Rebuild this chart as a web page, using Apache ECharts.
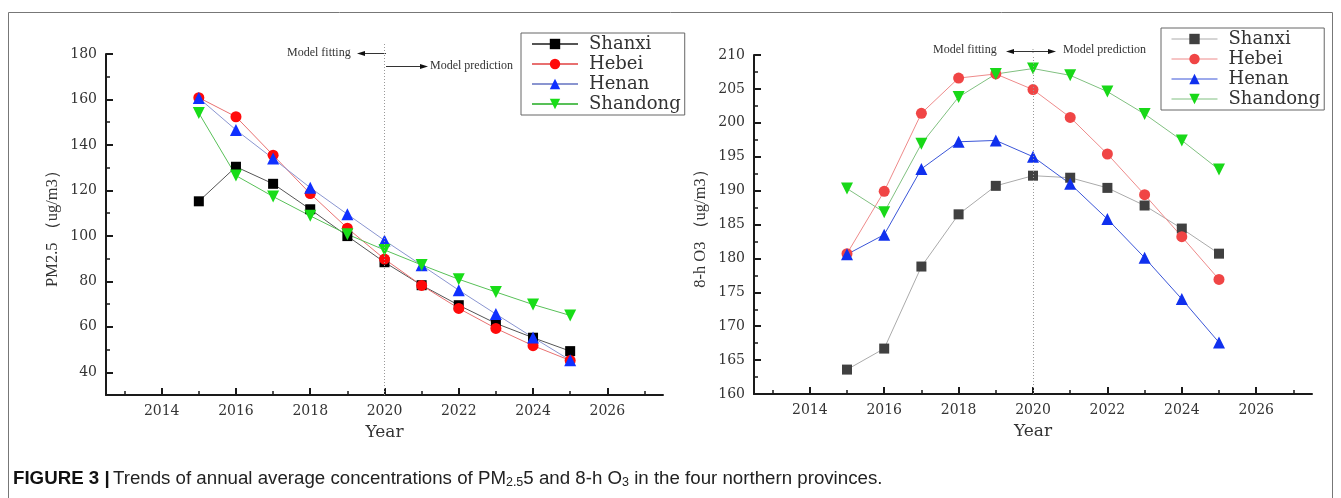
<!DOCTYPE html>
<html>
<head>
<meta charset="utf-8">
<script src="https://cdn.jsdelivr.net/npm/echarts@6/dist/echarts.min.js"></script>
<style>html,body{margin:0;padding:0;background:#fff;}#c{width:1341px;height:498px;}</style>
</head>
<body>
<div id="c"></div>
<script>
const years = [2015, 2016, 2017, 2018, 2019, 2020, 2021, 2022, 2023, 2024, 2025];
const provinces = ['Shanxi', 'Hebei', 'Henan', 'Shandong'];
// PM2.5 (left)
const pmShanxi   = [115.2, 130.4, 122.9, 111.7, 99.9, 88.4, 78.3, 69.5, 61.5, 55.2, 49.3];
const pmHebei    = [160.8, 152.4, 135.5, 118.6, 103.4, 89.8, 78.2, 68.1, 59.3, 51.7, 45.2];
const pmHenan    = [160.6, 146.6, 134.0, 121.2, 109.5, 98.0, 87.1, 76.1, 65.6, 55.3, 45.3];
const pmShandong = [154.0, 126.5, 117.3, 108.8, 100.7, 93.8, 87.2, 80.9, 75.3, 69.8, 65.0];
// 8-h O3 (right)
const o3Shanxi   = [163.6, 166.7, 178.8, 186.5, 190.7, 192.2, 191.9, 190.4, 187.8, 184.4, 180.7];
const o3Hebei    = [180.7, 189.9, 201.4, 206.6, 207.2, 204.9, 200.8, 195.4, 189.4, 183.2, 176.9];
const o3Henan    = [180.6, 183.5, 193.2, 197.2, 197.4, 195.0, 191.0, 185.8, 180.1, 174.0, 167.6];
const o3Shandong = [190.3, 186.8, 196.9, 203.8, 207.2, 208.0, 207.0, 204.6, 201.3, 197.4, 193.1];
// ticks
const majorYears = [2014, 2016, 2018, 2020, 2022, 2024, 2026];
const minorYears = [2013, 2015, 2017, 2019, 2021, 2023, 2025, 2027];
const pmMajor = [40, 60, 80, 100, 120, 140, 160, 180];
const pmMinor = [50, 70, 90, 110, 130, 150, 170];
const o3Major = [160, 165, 170, 175, 180, 185, 190, 195, 200, 205, 210];
const o3Minor = [162.5, 167.5, 172.5, 177.5, 182.5, 187.5, 192.5, 197.5, 202.5, 207.5];
const splitYear = 2020;

const pair = arr => years.map((y, i) => [y, arr[i]]);
const serif = 'DejaVu Serif';
const axisColor = '#1a1a1a';

function mainX(grid) {
  return {
    gridIndex: grid, type: 'value', min: 2012.5, max: 2027.5, position: 'bottom',
    axisLine: { onZero: false, lineStyle: { color: axisColor, width: 2 } },
    axisTick: { inside: true, length: 7, customValues: majorYears, lineStyle: { color: axisColor, width: 2 } },
    axisLabel: { customValues: majorYears, margin: 9, color: '#333', fontFamily: serif, fontSize: 14, formatter: v => String(v) },
    splitLine: { show: false },
    name: 'Year', nameLocation: 'middle', nameGap: 29,
    nameTextStyle: { fontFamily: serif, fontSize: 17, color: '#333' }
  };
}
function minorX(grid) {
  return {
    gridIndex: grid, type: 'value', min: 2012.5, max: 2027.5, position: 'bottom',
    axisLine: { show: false, onZero: false },
    axisTick: { inside: true, length: 4, customValues: minorYears, lineStyle: { color: axisColor, width: 1.5 } },
    axisLabel: { show: false }, splitLine: { show: false }
  };
}
function mainY(grid, min, max, major, name, gap) {
  return {
    gridIndex: grid, type: 'value', min: min, max: max, position: 'left',
    axisLine: { onZero: false, lineStyle: { color: axisColor, width: 2 } },
    axisTick: { inside: true, length: 7, customValues: major, lineStyle: { color: axisColor, width: 2 } },
    axisLabel: { customValues: major, margin: 9, color: '#333', fontFamily: serif, fontSize: 14, formatter: v => String(v) },
    splitLine: { show: false },
    name: name, nameLocation: 'middle', nameGap: gap,
    nameTextStyle: { fontFamily: 'Liberation Serif', fontSize: 16.5, color: '#333' }
  };
}
function minorY(grid, min, max, minor) {
  return {
    gridIndex: grid, type: 'value', min: min, max: max, position: 'left',
    axisLine: { show: false, onZero: false },
    axisTick: { inside: true, length: 4, customValues: minor, lineStyle: { color: axisColor, width: 1.5 } },
    axisLabel: { show: false }, splitLine: { show: false }
  };
}

const styleL = {
  Shanxi:   { sym: 'rect', size: 10, rot: 0, color: '#000000', line: '#555555' },
  Hebei:    { sym: 'circle', size: 11, rot: 0, color: '#ff0a0a', line: '#e87070' },
  Henan:    { sym: 'triangle', size: 12, rot: 0, color: '#1030ff', line: '#8a95d0' },
  Shandong: { sym: 'triangle', size: 12, rot: 180, color: '#18dd18', line: '#58c058' }
};
const styleR = {
  Shanxi:   { sym: 'rect', size: 10, rot: 0, color: '#404040', line: '#aaaaaa' },
  Hebei:    { sym: 'circle', size: 11, rot: 0, color: '#f04545', line: '#ee8a8a' },
  Henan:    { sym: 'triangle', size: 12, rot: 0, color: '#1030ee', line: '#3a55d8' },
  Shandong: { sym: 'triangle', size: 12, rot: 180, color: '#18d818', line: '#80c080' }
};

function mkSeries(name, arr, st, axisIdx, withMark) {
  const s = {
    name: name, type: 'line', xAxisIndex: axisIdx, yAxisIndex: axisIdx,
    data: pair(arr), symbol: st.sym, symbolSize: st.size, symbolRotate: st.rot,
    showAllSymbol: true,
    itemStyle: { color: st.color },
    lineStyle: { color: st.line, width: 1 },
    emphasis: { disabled: true }, animation: false
  };
  if (withMark) {
    s.markLine = {
      silent: true, symbol: ['none', 'none'], animation: false,
      label: { show: false },
      lineStyle: { color: '#999', type: [1, 2], width: 1 },
      data: [{ xAxis: splitYear }]
    };
  }
  return s;
}

const pmArr = [pmShanxi, pmHebei, pmHenan, pmShandong];
const o3Arr = [o3Shanxi, o3Hebei, o3Henan, o3Shandong];
const series = [];
provinces.forEach((p, i) => series.push(mkSeries(p, pmArr[i], styleL[p], 0, i === 0)));
provinces.forEach((p, i) => series.push(mkSeries(p, o3Arr[i], styleR[p], 2, i === 0)));

function legendCfg(left, top, styles, override) {
  return {
    orient: 'vertical', left: left, top: top, selectedMode: false,
    data: provinces.map(p => override ? { name: p, itemStyle: { color: styles[p].color }, lineStyle: { color: styles[p].line, width: 1 } } : { name: p }),
    borderColor: '#666', borderWidth: 1, padding: [2, 4, 2, 10],
    itemWidth: 46, itemHeight: 13, itemGap: 2,
    textStyle: { fontFamily: serif, fontSize: 18, color: '#333', padding: [0, 0, 0, 6] }
  };
}

const chart = echarts.init(document.getElementById('c'), null, { renderer: 'canvas', width: 1341, height: 498 });

function arrow(id, x1, x2, y) {
  const dir = x2 > x1 ? 1 : -1;
  return [
    { id: id + 'L', type: 'line', shape: { x1: x1, y1: y, x2: x2 - dir * 6, y2: y }, style: { stroke: '#333', lineWidth: 1 }, silent: true },
    { id: id + 'H', type: 'polygon', shape: { points: [[x2, y], [x2 - dir * 8, y - 2.5], [x2 - dir * 8, y + 2.5]] }, style: { fill: '#111' }, silent: true }
  ];
}
function vdots(id, x, y1, y2) {
  return { id: id, type: 'line', shape: { x1: x, y1: y1, x2: x, y2: y2 }, style: { stroke: '#999', lineWidth: 1, lineDash: [1, 2] }, silent: true };
}
const annoFont = '12px "Liberation Serif"';

chart.setOption({
  animation: false,
  grid: [
    { left: 106, right: 678, top: 54, bottom: 103 },
    { left: 754, right: 29, top: 55, bottom: 104 }
  ],
  xAxis: [mainX(0), minorX(0), mainX(1), minorX(1)],
  yAxis: [
    mainY(0, 30, 180, pmMajor, 'PM2.5 （ug/m3）', 45), minorY(0, 30, 180, pmMinor),
    mainY(1, 160, 210, o3Major, '8-h O3 （ug/m3）', 45), minorY(1, 160, 210, o3Minor)
  ],
  legend: [legendCfg(521, 33, styleL, false), legendCfg(1161, 28, styleR, true)],
  series: series,
  graphic: [
    { id: 'frame', type: 'rect', shape: { x: 8.5, y: 12.5, width: 1324, height: 520 }, style: { fill: 'none', stroke: '#777', lineWidth: 1 }, silent: true, z: -10 },
    { id: 'fitL', type: 'text', left: 287, top: 47, style: { text: 'Model fitting', font: annoFont, fill: '#333' }, silent: true },
    ...arrow('a1', 386, 357, 53.5),
    ...arrow('a2', 386, 428, 66.5),
    { id: 'preL', type: 'text', left: 430, top: 60, style: { text: 'Model prediction', font: annoFont, fill: '#333' }, silent: true },
    { id: 'fitR', type: 'text', left: 933, top: 44, style: { text: 'Model fitting', font: annoFont, fill: '#333' }, silent: true },
    ...arrow('a3', 1033, 1006, 51.5),
    ...arrow('a4', 1033, 1056, 51.5),
    { id: 'preR', type: 'text', left: 1063, top: 44, style: { text: 'Model prediction', font: annoFont, fill: '#333' }, silent: true },
    {
      id: 'caption', type: 'text', left: 13, top: 469, silent: true,
      style: {
        text: '{b|FIGURE 3 |} {n|Trends of annual average concentrations of PM}{s|2.5}{n|5 and 8-h O}{s|3}{n| in the four northern provinces.}',
        rich: {
          b: { fontFamily: 'Liberation Sans', fontWeight: 'bold', fontSize: 18.7, lineHeight: 22, fill: '#111' },
          n: { fontFamily: 'Liberation Sans', fontSize: 18.7, lineHeight: 22, fill: '#222' },
          s: { fontFamily: 'Liberation Sans', fontSize: 12.5, lineHeight: 6, verticalAlign: 'bottom', fill: '#222' }
        }
      }
    }
  ]
});
// extend the 2020 separator above the plot top, as in the original figure
const topL = chart.convertToPixel({ xAxisIndex: 0, yAxisIndex: 0 }, [splitYear, 180]);
const topR = chart.convertToPixel({ xAxisIndex: 2, yAxisIndex: 2 }, [splitYear, 210]);
chart.setOption({ graphic: [vdots('vdL', topL[0], topL[1] - 10, topL[1]), vdots('vdR', topR[0], topR[1] - 6, topR[1])] });
</script>
</body>
</html>
